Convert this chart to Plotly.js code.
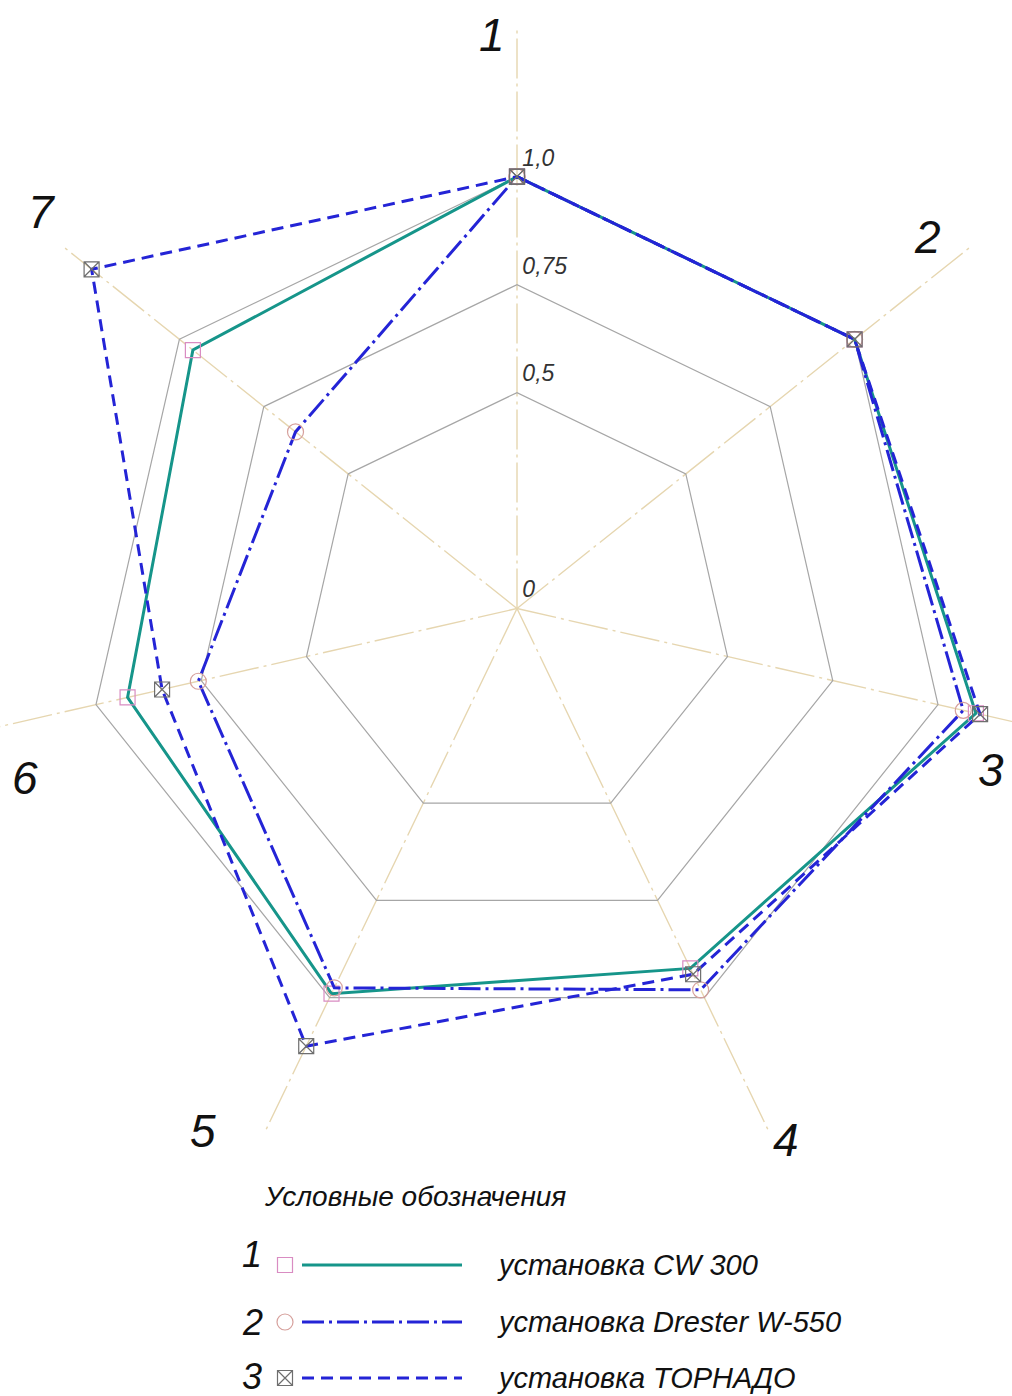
<!DOCTYPE html>
<html>
<head>
<meta charset="utf-8">
<script src="https://cdn.plot.ly/plotly-3.0.1.min.js"></script>
<style>
html,body{margin:0;padding:0;overflow:hidden;background:#fff;width:1012px;height:1396px;}
#chart{position:absolute;left:-66px;top:0;width:1166px;height:1396px;}
</style>
</head>
<body>
<div id="chart"></div>
<script>
// ---- data ----
const axisNames = ['1','2','3','4','5','6','7'];
const seriesNames = ['установка CW 300','установка Drester W-550','установка ТОРНАДО'];
const cw300   = [1.00, 1.00, 1.09, 0.925, 0.99, 0.925, 0.96];
const drester = [1.00, 1.00, 1.06, 0.98, 0.975, 0.757, 0.656];
const tornado = [1.00, 1.00, 1.10, 0.94, 1.125, 0.843, 1.26];
const radialTickVals = [0.001, 0.5, 0.75, 1.0];
const radialTickText = ['0', '0,5', '0,75', '1,0'];
const legendTitle = 'Условные обозначения';
const legendNumbers = ['1','2','3'];

// ---- styles ----
const FONT = 'Liberation Sans, Arial, sans-serif';
const styles = [
  {line:{color:'#16958a', width:3, dash:'solid'}, marker:{symbol:'square-open', size:15, color:'#d98cc2', line:{width:1.2}}},
  {line:{color:'#2424d6', width:3, dash:'22px,5px,3px,5px'}, marker:{symbol:'circle-open', size:16, color:'#d6a09c', line:{width:1.2}}},
  {line:{color:'#2424d6', width:3, dash:'12px,7px'}, marker:{symbol:'square-x-open', size:15, color:'#6e6e6e', line:{width:1.2}}}
];
const seriesVals = [cw300, drester, tornado];

const closeLoop = a => a.concat([a[0]]);
const traces = [];
seriesVals.forEach((vals, i) => {
  traces.push({
    type:'scatterpolar', mode:'lines+markers',
    r: closeLoop(vals), theta: closeLoop(axisNames),
    line: styles[i].line, marker: styles[i].marker,
    name: seriesNames[i], showlegend:false, cliponaxis:false, hoverinfo:'skip'
  });
});
// radial tick labels
traces.push({
  type:'scatterpolar', mode:'markers+text',
  r: radialTickVals, theta: radialTickVals.map(() => axisNames[0]),
  marker:{size:7, color:'rgba(0,0,0,0)'},
  text: radialTickText, textposition:'top right',
  textfont:{family:FONT, size:23, style:'italic', color:'#333'},
  showlegend:false, cliponaxis:false, hoverinfo:'skip'
});

// ---- legend samples (in a pixel-unit overlay axis) ----
const legRowY = [1265, 1322, 1378];
const legMarkX = 285, legLineX = [302, 462], legTextX = 495, legNumX = 252;
seriesVals.forEach((vals, i) => {
  traces.push({type:'scatter', mode:'lines', x:legLineX, y:[legRowY[i], legRowY[i]],
    xaxis:'x', yaxis:'y', line:styles[i].line, showlegend:false, hoverinfo:'skip'});
  traces.push({type:'scatter', mode:'markers', x:[legMarkX], y:[legRowY[i]],
    xaxis:'x', yaxis:'y', marker:styles[i].marker, showlegend:false, hoverinfo:'skip'});
});

const annotations = [];
// axis labels (screen px positions)
const axisLabelPos = [[492,35],[927,237],[991,770],[786,1140],[203,1131],[25,778],[41,212]];
axisNames.forEach((n, i) => {
  annotations.push({xref:'x', yref:'y', x:axisLabelPos[i][0], y:axisLabelPos[i][1], text:n,
    showarrow:false, xanchor:'center', yanchor:'middle',
    font:{family:FONT, size:46, style:'italic', color:'#111'}});
});
annotations.push({xref:'x', yref:'y', x:262, y:1196, text:legendTitle, showarrow:false,
  xanchor:'left', yanchor:'middle', font:{family:FONT, size:28, style:'italic', color:'#111'}});
const legNumY = [1254, 1322, 1376];
legendNumbers.forEach((n, i) => {
  annotations.push({xref:'x', yref:'y', x:legNumX, y:legNumY[i], text:n, showarrow:false,
    xanchor:'center', yanchor:'middle', font:{family:FONT, size:36, style:'italic', color:'#111'}});
  annotations.push({xref:'x', yref:'y', x:legTextX, y:legRowY[i], text:seriesNames[i], showarrow:false,
    xanchor:'left', yanchor:'middle', font:{family:FONT, size:29, style:'italic', color:'#111'}});
});

const layout = {
  width:1166, height:1396,
  margin:{l:0, r:0, t:0, b:0},
  paper_bgcolor:'#fff', plot_bgcolor:'rgba(0,0,0,0)',
  showlegend:false,
  font:{family:FONT},
  polar:{
    domain:{x:[0,1], y:[0.1465, 0.9817]},
    bgcolor:'rgba(0,0,0,0)',
    gridshape:'linear',
    radialaxis:{range:[0,1.35], tickmode:'array', tickvals:[0.5,0.75,1.0],
      showticklabels:false, ticks:'', showline:false, angle:90,
      gridcolor:'#a6a6a6', gridwidth:1.2, layer:'below traces'},
    angularaxis:{type:'category', categoryarray:axisNames, direction:'clockwise', rotation:90,
      showline:false, showticklabels:false, ticks:'',
      gridcolor:'#e6d6b0', gridwidth:1.4, griddash:'40px,5px,3px,5px', layer:'below traces'}
  },
  xaxis:{domain:[66/1166, 1078/1166], range:[0,1012], visible:false, fixedrange:true},
  yaxis:{domain:[0,1], range:[1396,0], visible:false, fixedrange:true},
  annotations: annotations
};

Plotly.newPlot('chart', traces, layout, {staticPlot:true, displayModeBar:false});
</script>
</body>
</html>
